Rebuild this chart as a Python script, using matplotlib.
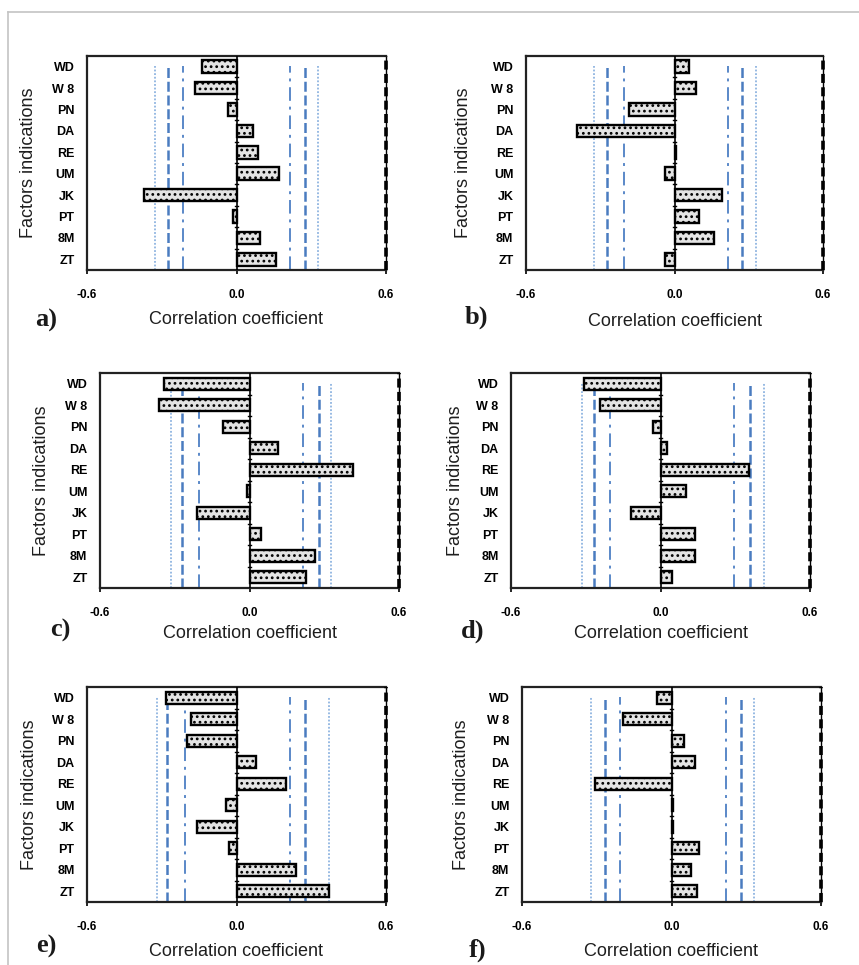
import matplotlib
matplotlib.use("Agg")
import matplotlib.pyplot as plt
from matplotlib.lines import Line2D

W, H = 859, 965
DPI = 100

factors = ["WD", "W 8", "PN", "DA", "RE", "UM", "JK", "PT", "8M", "ZT"]

corr_a = [-0.140, -0.165, -0.035, 0.065, 0.085, 0.170, -0.370, -0.015, 0.095, 0.160]
corr_b = [0.060, 0.085, -0.185, -0.395, 0.007, -0.038, 0.190, 0.098, 0.160, -0.040]
corr_c = [-0.345, -0.363, -0.107, 0.114, 0.415, -0.012, -0.209, 0.047, 0.261, 0.226]
corr_d = [-0.308, -0.241, -0.032, 0.027, 0.354, 0.102, -0.119, 0.139, 0.138, 0.048]
corr_e = [-0.284, -0.182, -0.197, 0.079, 0.198, -0.043, -0.157, -0.032, 0.239, 0.373]
corr_f = [-0.059, -0.194, 0.051, 0.094, -0.308, 0.008, 0.006, 0.109, 0.080, 0.102]

# significance thresholds: (neg dotted, neg dashed, neg dash-dot, pos dash-dot, pos dashed, pos dotted)
thr_a = [-0.327, -0.273, -0.214, 0.216, 0.273, 0.327]
thr_b = [-0.327, -0.273, -0.206, 0.215, 0.271, 0.328]
thr_c = [-0.316, -0.269, -0.202, 0.213, 0.280, 0.328]
thr_d = [-0.315, -0.268, -0.204, 0.295, 0.359, 0.415]
thr_e = [-0.320, -0.277, -0.206, 0.216, 0.276, 0.372]
thr_f = [-0.322, -0.268, -0.205, 0.217, 0.277, 0.331]

panel_letters = ["a)", "b)", "c)", "d)", "e)", "f)"]
x_ticks = [-0.6, 0.0, 0.6]
x_tick_labels = ["-0.6", "0.0", "0.6"]

# pixel boxes of the panels: left, top, right, bottom
boxes = [
    (87, 56, 386, 270),
    (526, 56, 823, 270),
    (100, 373, 399, 588),
    (511, 373, 810, 588),
    (87, 687, 386, 902),
    (522, 687, 821, 902),
]
ylabel_x = [29, 463, 42, 455, 30, 462]
letter_pos = [(46, 320), (476, 317), (60, 630), (473, 631), (46, 946), (478, 950)]
xlabel_y = [319, 322, 634, 634, 951, 952]

plt.rcParams["font.family"] = ["Liberation Sans", "DejaVu Sans"]
plt.rcParams["hatch.linewidth"] = 1.2

fig = plt.figure(figsize=(W / DPI, H / DPI), dpi=DPI)


def fx(x):
    return x / W


def fy(y):
    return 1 - y / H


# thin page frame
fig.add_artist(Line2D([fx(7.5), fx(7.5)], [fy(11.5), 0], color="#c4c4c4", lw=1.2))
fig.add_artist(Line2D([fx(7.5), 1], [fy(11.5), fy(11.5)], color="#c4c4c4", lw=1.2))

data = [corr_a, corr_b, corr_c, corr_d, corr_e, corr_f]
thresholds = [thr_a, thr_b, thr_c, thr_d, thr_e, thr_f]

styles = [
    dict(color="#8fb4e0", ls=(0, (1, 1)), lw=1.3),
    dict(color="#4a7cc0", ls=(0, (4, 1.5)), lw=1.8),
    dict(color="#5a88c8", ls=(0, (7, 3, 1.5, 3)), lw=1.4),
]
line_style_order = [0, 1, 2, 2, 1, 0]

n = len(factors)
ypos = list(range(n - 1, -1, -1))  # first factor at the top

for i in range(6):
    l, t, r, b = boxes[i]
    ax = fig.add_axes([fx(l), fy(b), (r - l) / W, (b - t) / H])
    ax.set_xlim(-0.6, 0.6)
    ax.set_ylim(-0.5, n - 0.5)

    for v, si in zip(thresholds[i], line_style_order):
        ax.axvline(v, ymin=0, ymax=0.955, zorder=1, **styles[si])

    ax.barh(ypos, data[i], height=0.58, color="#e4e4e4", edgecolor="black",
            hatch="...", linewidth=1.7, zorder=3)

    ax.axvline(0, color="black", lw=1.2, zorder=4)
    for k in range(n - 1):
        ax.plot([-0.007, 0.007], [k + 0.5, k + 0.5], color="black", lw=1.0, zorder=4)

    ax.set_yticks(ypos)
    ax.set_yticklabels(factors, fontsize=9, fontweight="bold")
    ax.tick_params(axis="y", length=0, pad=9)
    ax.set_xticks(x_ticks)
    ax.set_xticklabels(x_tick_labels, fontsize=8.5, fontweight="bold")
    ax.tick_params(axis="x", length=3, width=1.2, pad=11, direction="out")

    for side in ["left", "top", "bottom"]:
        ax.spines[side].set_linewidth(1.6)
        ax.spines[side].set_color("#222222")
    ax.spines["right"].set_linewidth(1.0)
    ax.plot([0.6, 0.6], [-0.5, n - 0.5], color="black", lw=2.6,
            ls=(0, (2.5, 1.2)), zorder=5, clip_on=False)

    fig.text(fx(ylabel_x[i]), fy((t + b) / 2), "Factors indications",
             rotation=90, ha="center", va="center", fontsize=13, color="#1e1e1e")
    fig.text(fx((l + r) / 2), fy(xlabel_y[i]), "Correlation coefficient",
             ha="center", va="center", fontsize=13, color="#1e1e1e")
    fig.text(fx(letter_pos[i][0]), fy(letter_pos[i][1]), panel_letters[i],
             ha="center", va="center", fontsize=19, fontweight="bold",
             family=["Liberation Serif", "DejaVu Serif"], color="#1a1a1a")

fig.savefig("out.png", dpi=DPI, facecolor="white")
